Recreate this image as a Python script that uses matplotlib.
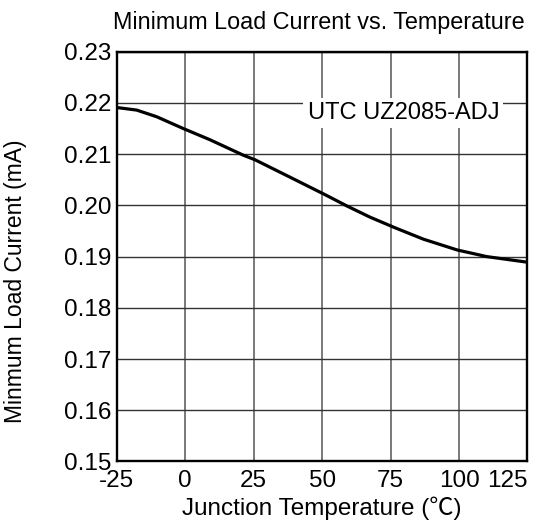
import matplotlib
matplotlib.use("Agg")
import matplotlib.pyplot as plt

# curve
temp_c = [-25, -17.7, -10.4, -0.7, 9.1, 21.2, 25.5, 38.3, 51.4, 59.0, 67.5,
          76.3, 87.0, 99.3, 110.1, 125]
load_ma = [0.2191, 0.2186, 0.2173, 0.2150, 0.2128, 0.2098, 0.2089, 0.2055, 0.2020,
           0.1999, 0.1977, 0.1957, 0.1934, 0.1913, 0.1900, 0.1889]

x_ticks = [-25, 0, 25, 50, 75, 100, 125]
y_ticks = [0.15, 0.16, 0.17, 0.18, 0.19, 0.20, 0.21, 0.22, 0.23]

plt.rcParams["font.family"] = ["Liberation Sans", "Noto Sans CJK SC"]

fig = plt.figure(figsize=(5.41, 5.29), dpi=100)
ax = fig.add_axes([0.2157, 0.1276, 0.7593, 0.7747])

ax.plot(temp_c, load_ma, color="black", linewidth=2.3, zorder=3,
        solid_joinstyle="round", solid_capstyle="butt")

ax.set_xlim(-25, 125)
ax.set_ylim(0.15, 0.23)
ax.set_xticks(x_ticks)
ax.set_yticks(y_ticks)
ax.set_xticklabels([str(t) for t in x_ticks])
ax.set_yticklabels([f"{v:.2f}" for v in y_ticks])
ax.tick_params(length=0, labelsize=17.5)
ax.tick_params(axis="y", pad=4)
ax.tick_params(axis="x", pad=6)
ax.get_xticklabels()[-1].set_ha("right")
ax.grid(True, axis="y", color="#333333", linewidth=1.0)
ax.grid(True, axis="x", color="#555555", linewidth=1.1)
for s in ax.spines.values():
    s.set_linewidth(1.7)
    s.set_zorder(4)

ax.text(79.7, 0.2180, "UTC UZ2085-ADJ", fontsize=17, ha="center", va="center",
        bbox=dict(facecolor="white", edgecolor="none", pad=3), zorder=2.5)

ax.set_xlabel("Junction Temperature (℃)", fontsize=17.5)
ax.xaxis.set_label_coords(0.5, -0.085)
ax.set_ylabel("Minmum Load Current (mA)", fontsize=16.5)
ax.yaxis.set_label_coords(-0.218, 0.44)
fig.text(0.59, 0.958, "Minimum Load Current vs. Temperature", fontsize=16.8,
         ha="center", va="center")

fig.savefig("out.png", dpi=100)
